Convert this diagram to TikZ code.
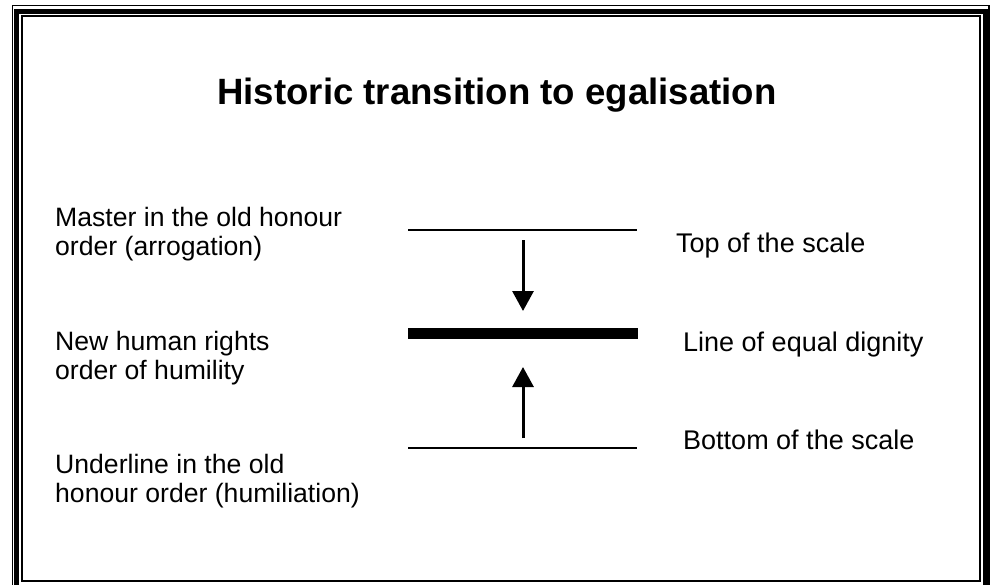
\documentclass[tikz,border=0pt]{standalone}
\usepackage{fontspec}
\setmainfont{Liberation Sans}
\usetikzlibrary{arrows.meta}
\begin{document}
\begin{tikzpicture}[x=1pt,y=-1pt,
  lbl/.style={inner sep=0pt, align=left, font=\fontsize{26.6}{29.5}\selectfont},
  scaleline/.style={line width=1.5pt},
  arr/.style={line width=3pt, -{Triangle[length=20pt,width=21pt]}}]
\useasboundingbox (0,0) rectangle (996,584);
\clip (0,0) rectangle (996,584);
% frame
\draw[line width=1.5pt] (12.5,5.5) rectangle (989,620);
\draw[line width=5pt] (16.5,11) rectangle (985,615);
\draw[line width=2pt] (22,16) rectangle (980,581);
% title
\node[inner sep=0pt, anchor=base, font=\fontsize{36.6}{40}\selectfont\bfseries] (title) at (497,104) {Historic transition to egalisation};
% scale lines
\coordinate (t1) at (408,230); \coordinate (t2) at (637,230);
\coordinate (m1) at (408,333.5); \coordinate (m2) at (638,333.5);
\coordinate (b1) at (408,448); \coordinate (b2) at (637,448);
\draw[scaleline] (t1) -- (t2);
\draw[line width=11pt] (m1) -- (m2);
\draw[scaleline] (b1) -- (b2);
% arrows
\coordinate (d1) at (523,240); \coordinate (d2) at (523,311);
\coordinate (u1) at (523,438); \coordinate (u2) at (523,367);
\draw[arr] (d1) -- (d2);
\draw[arr] (u1) -- (u2);
% left labels (base anchor = last line)
\node[lbl, anchor=base west] (master) at (55,255.5) {Master in the old honour\\order (arrogation)};
\node[lbl, anchor=base west] (new) at (55,379.5) {New human rights\\order of humility};
\node[lbl, anchor=base west] (under) at (55,502.5) {Underline in the old\\honour order (humiliation)};
% right labels
\node[lbl, font=\fontsize{27}{30}\selectfont, anchor=base west] (top) at (676,252) {Top of the scale};
\node[lbl, font=\fontsize{27}{30}\selectfont, anchor=base west] (eq) at (683,351) {Line of equal dignity};
\node[lbl, font=\fontsize{27}{30}\selectfont, anchor=base west] (bot) at (683,449) {Bottom of the scale};
\end{tikzpicture}
\end{document}
